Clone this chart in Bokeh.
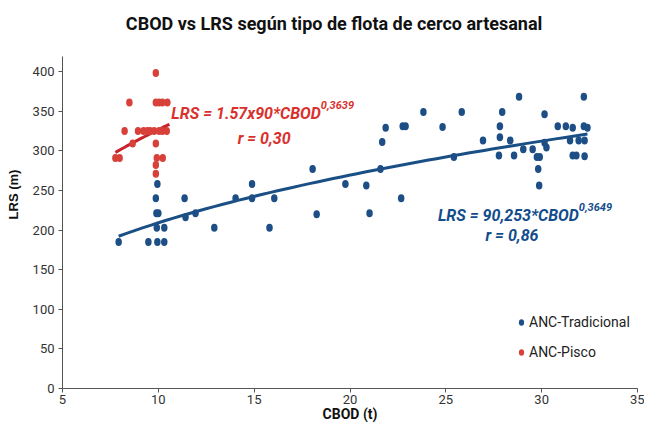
import numpy as np
from bokeh.plotting import figure
from bokeh.models import Range1d, Label, Legend, LegendItem, FixedTicker
from bokeh.embed import file_html
from bokeh.resources import INLINE

# ---- data ----
trad_x = [7.93, 9.48, 9.95, 10.31, 9.92, 10.31, 9.9, 10.0, 9.87, 9.95, 11.37, 11.42, 11.94,
          12.92, 14.03, 14.89, 14.89, 15.8, 16.05, 18.05, 18.26, 19.76, 20.85, 21.02, 21.59,
          21.68, 21.86, 22.67, 22.75, 22.9, 23.83, 24.83, 25.42, 25.83, 26.94, 27.77, 27.82,
          27.82, 27.94, 28.36, 28.56, 28.82, 29.04, 29.53, 29.75, 29.9, 29.82, 29.87, 30.15,
          30.15, 30.25, 30.84, 31.26, 31.48, 31.62, 31.62, 31.81, 31.93, 32.2, 32.2, 32.24,
          32.24, 32.39]
trad_y = [185, 185, 185, 185, 203, 203, 221, 221, 240, 258, 240, 216, 221,
          203, 240, 258, 240, 203, 240, 277, 220, 258, 256, 221, 277,
          311, 329, 240, 331, 331, 349, 330, 292, 349, 313, 294, 331,
          317, 349, 313, 294, 368, 302, 302, 292, 292, 277, 256, 346,
          310, 304, 331, 331, 313, 329, 294, 294, 313, 368, 331, 313,
          293, 329]

pisco_x = [9.87, 8.49, 9.87, 10.04, 10.21, 10.47, 8.24, 8.94, 9.23, 9.43, 9.57, 9.78,
           10.04, 10.21, 10.44, 8.66, 9.87, 7.76, 7.98, 9.92, 10.23, 9.87, 9.87]
pisco_y = [398, 361, 361, 361, 361, 361, 325, 325, 325, 325, 325, 325,
           325, 325, 325, 309, 309, 291, 291, 291, 291, 282, 271]

# fitted power curves as printed on the chart
trad_a, trad_b = 90.253, 0.3649
pisco_a, pisco_b = 1.57 * 90, 0.3639

x_ticks = [5, 10, 15, 20, 25, 30, 35]
y_ticks = [0, 50, 100, 150, 200, 250, 300, 350, 400]

TITLE = "CBOD vs LRS según tipo de flota de cerco artesanal"

BLUE = "#1d4f86"
BLUE_LINE = "#1a4f85"
RED = "#d8403a"
RED_LINE = "#c8222a"
RED_TXT = "#d9302e"
BLUE_TXT = "#124c8c"
FONT = "Roboto"

# plotting area reaches the top of the canvas so the title can sit inside it;
# the y axis line itself is bounded to 0..419
p = figure(width=644, height=441, output_backend="svg", toolbar_location=None,
           x_range=Range1d(5, 35), y_range=Range1d(0, 489.6),
           min_border_left=62, min_border_right=7, min_border_top=0, min_border_bottom=53)
p.outline_line_color = None
p.xgrid.visible = False
p.ygrid.visible = False

for ax in (p.xaxis[0], p.yaxis[0]):
    ax.axis_line_color = "#555555"
    ax.major_tick_line_color = "#555555"
    ax.minor_tick_line_color = None
    ax.major_tick_in = 0
    ax.major_tick_out = 4
    ax.major_label_text_font = FONT
    ax.major_label_text_font_size = "13px"
    ax.major_label_text_color = "#333333"

p.xaxis[0].major_label_standoff = 2
p.yaxis[0].major_label_standoff = 4
p.yaxis[0].bounds = (0, 419)
p.xaxis[0].ticker = FixedTicker(ticks=x_ticks)
p.yaxis[0].ticker = FixedTicker(ticks=y_ticks)
p.xaxis[0].axis_label = "CBOD (t)"
p.xaxis[0].axis_label_text_font = FONT
p.xaxis[0].axis_label_text_font_style = "bold"
p.xaxis[0].axis_label_text_font_size = "14px"
p.xaxis[0].axis_label_text_color = "#111111"
p.xaxis[0].axis_label_standoff = -1
p.yaxis[0].axis_label = "LRS (m)"
p.yaxis[0].axis_label_text_font = "Liberation Sans"
p.yaxis[0].axis_label_text_font_style = "bold"
p.yaxis[0].axis_label_text_font_size = "13px"
p.yaxis[0].axis_label_text_color = "#111111"
p.yaxis[0].axis_label_standoff = 9

# title
p.add_layout(Label(x=19.17, y=460.6, text=TITLE, text_font=FONT, text_font_size="18px",
                   text_font_style="bold", text_color="#111111",
                   text_align="center", text_baseline="middle"))

# trend lines
tx = np.linspace(min(trad_x), max(trad_x), 60)
p.line(tx, trad_a * tx ** trad_b, line_color=BLUE_LINE, line_width=3)
px_ = np.linspace(min(pisco_x), 10.58, 30)
p.line(px_, pisco_a * px_ ** pisco_b, line_color=RED_LINE, line_width=3)

r_trad = p.ellipse(trad_x, trad_y, width=6.5, height=8, width_units="screen", height_units="screen",
                   fill_color=BLUE, line_color=None)
r_pisco = p.ellipse(pisco_x, pisco_y, width=6.5, height=8, width_units="screen", height_units="screen",
                    fill_color=RED, line_color=None)

legend = Legend(items=[LegendItem(label="ANC-Tradicional", renderers=[r_trad]),
                       LegendItem(label="ANC-Pisco", renderers=[r_pisco])],
                location=(455, 26), padding=0, margin=0, spacing=10,
                glyph_width=8, glyph_height=20, label_height=20, label_standoff=4,
                border_line_alpha=0, background_fill_alpha=0,
                label_text_font=FONT, label_text_font_size="14px", label_text_color="#222222")
p.add_layout(legend)

def eq(x, y, text, color, size, align="left"):
    p.add_layout(Label(x=x, y=y, text=text, text_color=color, text_font=FONT,
                       text_font_size=size, text_font_style="bold italic",
                       text_align=align, text_baseline="alphabetic"))

eq(18.48, 347, "LRS = 1.57x90*CBOD", RED_TXT, "16px", "right")
eq(18.48, 358, "0,3639", RED_TXT, "11px", "left")
eq(15.52, 315.5, "r = 0,30", RED_TXT, "16px", "center")

eq(31.94, 218.3, "LRS = 90,253*CBOD", BLUE_TXT, "16px", "right")
eq(31.94, 229.6, "0,3649", BLUE_TXT, "11px", "left")
eq(28.45, 193, "r = 0,86", BLUE_TXT, "16px", "center")

open("out.html", "w").write(file_html(p, INLINE))
